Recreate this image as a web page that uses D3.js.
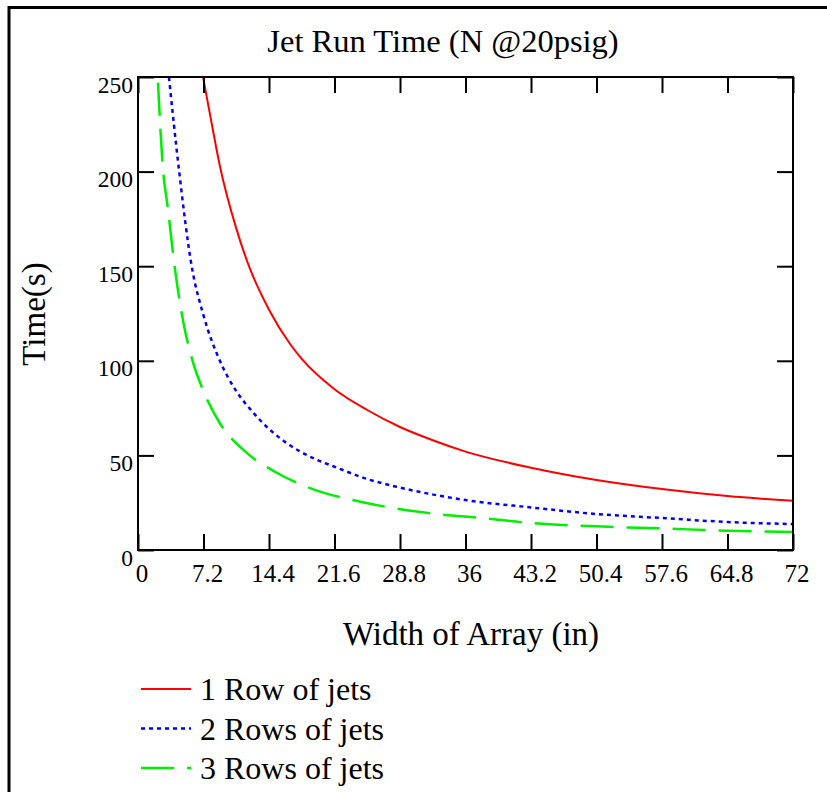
<!DOCTYPE html>
<html>
<head>
<meta charset="utf-8">
<script src="https://cdn.jsdelivr.net/npm/d3@7"></script>
<style>
  body { margin: 0; background: #fff; }
  svg text { font-family: "Liberation Serif", "Times New Roman", serif; fill: #000; }
</style>
</head>
<body>
<div id="chart"></div>
<script>
// values
const xTicks = [0, 7.2, 14.4, 21.6, 28.8, 36, 43.2, 50.4, 57.6, 64.8, 72];
const yTicks = [0, 50, 100, 150, 200, 250];

const wRed = [7.15, 8, 9, 10.8, 12.2, 14.4, 16.7, 18, 21.6, 25.2, 28.8, 32.4, 36, 43.2, 50.4, 57.6, 64.8, 72];
const tRed = [250, 228, 203, 170, 150, 127, 109, 101, 85, 74, 65, 58, 52, 43.5, 37, 32.2, 28.5, 26];

const wBlue = [3.4, 4.5, 5.9, 7.2, 9, 10.8, 12.6, 14.4, 16.2, 19.5, 21.6, 25.2, 28.8, 36, 43.2, 50.4, 57.6, 64.8, 72];
const tBlue = [250, 201, 150, 124, 100, 84, 73, 64, 57, 48, 44, 37.5, 33, 26.4, 22.5, 19, 16.9, 14.8, 13.7];

const wGreen = [2.2, 2.7, 3.3, 4.05, 5, 6, 7.2, 9, 11.8, 15.3, 19.2, 23.6, 28, 32.9, 37.8, 43.2, 50.4, 57.6, 64.8, 72];
const tGreen = [247, 204, 180, 149, 120, 100, 84, 67, 52, 40.7, 32.2, 26.4, 22.2, 19, 16.9, 14.3, 12.5, 11.4, 10.2, 9.5];

const seriesNames = ["1 Row of jets", "2 Rows of jets", "3 Rows of jets"];

const series = [
  { name: seriesNames[0], w: wRed, t: tRed, color: "#ff0000", dash: null, width: 2 },
  { name: seriesNames[1], w: wBlue, t: tBlue, color: "#0000ff", dash: "4,4", width: 2.5 },
  { name: seriesNames[2], w: wGreen, t: tGreen, color: "#00ee00", dash: "33,13", width: 2.5 }
];

const W = 827, H = 792;
const plot = { left: 138, right: 793, top: 77, bottom: 550 };

const svg = d3.select("#chart").append("svg")
  .attr("width", W)
  .attr("height", H);

// outer frame (top and left edges only visible)
svg.append("line").attr("x1", 9).attr("x2", W).attr("y1", 7.5).attr("y2", 7.5)
  .attr("stroke", "#000").attr("stroke-width", 3);
svg.append("line").attr("x1", 9).attr("x2", 9).attr("y1", 6).attr("y2", H)
  .attr("stroke", "#000").attr("stroke-width", 3);

const x = d3.scaleLinear().domain([0, 72]).range([plot.left, plot.right]);
const y = d3.scaleLinear().domain([0, 250]).range([plot.bottom, plot.top]);

svg.append("clipPath").attr("id", "clip")
  .append("rect")
  .attr("x", plot.left).attr("y", plot.top)
  .attr("width", plot.right - plot.left).attr("height", plot.bottom - plot.top);

// curves
const line = d3.line()
  .x(d => x(d[0]))
  .y(d => y(d[1]))
  .curve(d3.curveMonotoneX);

svg.append("g").attr("clip-path", "url(#clip)")
  .selectAll("path")
  .data(series)
  .join("path")
  .attr("fill", "none")
  .attr("stroke", d => d.color)
  .attr("stroke-width", d => d.width)
  .attr("stroke-dasharray", d => d.dash)
  .attr("d", d => line(d.w.map((v, i) => [v, d.t[i]])));

// axes, ticks point inwards
const tickLen = 16;

const xb = svg.append("g")
  .attr("transform", `translate(0,${plot.bottom})`)
  .call(d3.axisBottom(x).tickValues(xTicks).tickSizeInner(-tickLen).tickSizeOuter(0)
    .tickFormat(d3.format("")));
xb.selectAll("text").attr("y", 32).attr("dy", 0).attr("dx", 3.5).style("font-size", "25px");

svg.append("g")
  .attr("transform", `translate(0,${plot.top})`)
  .call(d3.axisTop(x).tickValues(xTicks).tickSizeInner(-tickLen).tickSizeOuter(0).tickFormat(""));

const yl = svg.append("g")
  .attr("transform", `translate(${plot.left},0)`)
  .call(d3.axisLeft(y).tickValues(yTicks).tickSizeInner(-tickLen).tickSizeOuter(0).tickPadding(5));
yl.selectAll("text").attr("dy", "0.64em").style("font-size", "23.5px");

svg.append("g")
  .attr("transform", `translate(${plot.right},0)`)
  .call(d3.axisRight(y).tickValues(yTicks).tickSizeInner(-tickLen).tickSizeOuter(0).tickFormat(""));

svg.selectAll(".domain").remove();
svg.selectAll(".tick line").attr("stroke", "#000").attr("stroke-width", 2);

// plot box
svg.append("rect")
  .attr("x", plot.left).attr("y", plot.top)
  .attr("width", plot.right - plot.left).attr("height", plot.bottom - plot.top)
  .attr("fill", "none").attr("stroke", "#000").attr("stroke-width", 2);

// titles
svg.append("text")
  .attr("x", 443).attr("y", 52)
  .attr("text-anchor", "middle")
  .style("font-size", "32.5px")
  .text("Jet Run Time (N @20psig)");

svg.append("text")
  .attr("x", 471).attr("y", 645)
  .attr("text-anchor", "middle")
  .style("font-size", "33px")
  .text("Width of Array (in)");

svg.append("text")
  .attr("transform", "translate(45,314) rotate(-90)")
  .attr("text-anchor", "middle")
  .style("font-size", "33px")
  .text("Time(s)");

// legend
const legend = svg.append("g").attr("transform", "translate(141,689)");
const item = legend.selectAll("g")
  .data(series)
  .join("g")
  .attr("transform", (d, i) => `translate(0,${i * 39.5})`);

item.append("line")
  .attr("x1", 0).attr("x2", 50)
  .attr("stroke", d => d.color)
  .attr("stroke-width", d => d.width)
  .attr("stroke-dasharray", d => d.dash);

item.append("text")
  .attr("x", 59).attr("y", 11)
  .style("font-size", "32px")
  .text(d => d.name);
</script>
</body>
</html>
